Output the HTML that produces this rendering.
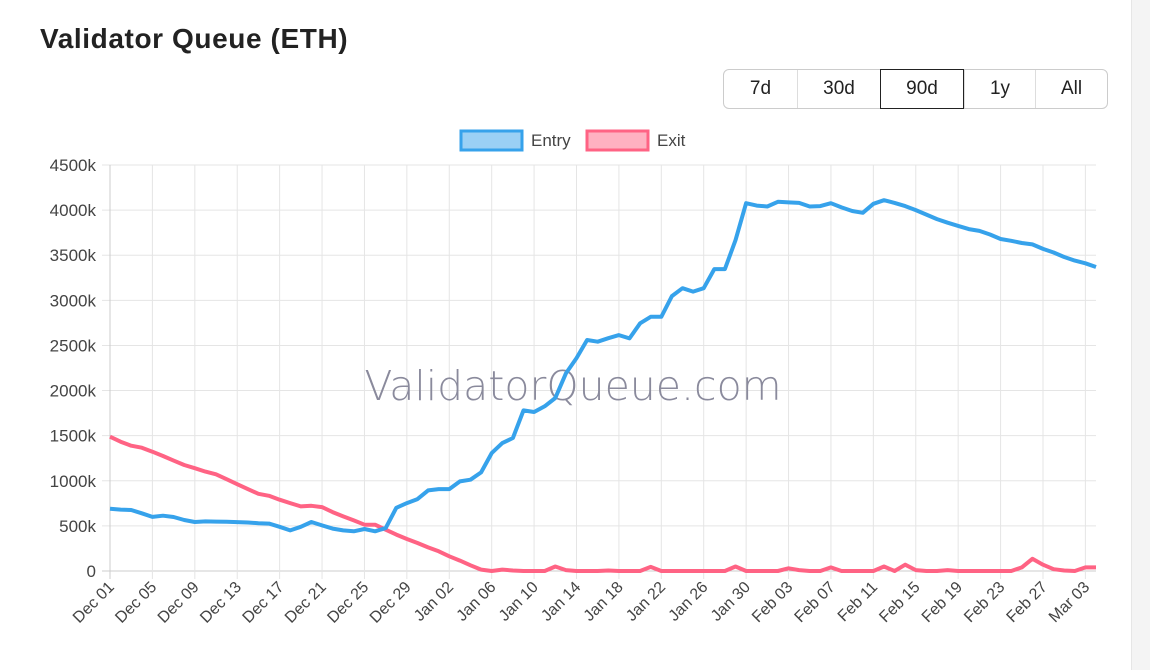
<!DOCTYPE html>
<html><head><meta charset="utf-8"><style>
body{margin:0;width:1150px;height:670px;background:#fff;font-family:"Liberation Sans",sans-serif;overflow:hidden;position:relative}
h1{position:absolute;left:40px;top:23px;margin:0;font-size:28px;font-weight:bold;color:#222;letter-spacing:0.6px}
.btns{position:absolute;left:723px;top:69px;display:flex;border:1px solid #ccc;border-radius:6px;height:40px;box-sizing:border-box}
.btns div{display:flex;align-items:center;justify-content:center;font-size:19px;color:#222;border-left:1px solid #ddd;box-sizing:border-box}
.btns div:first-child{border-left:none}
.btns .act{border:1px solid #222;margin:-1px 0}
.sb{position:absolute;left:1131px;top:0;width:19px;height:670px;background:#f4f4f4;border-left:1px solid #e6e6e6}
</style></head><body>
<h1>Validator Queue (ETH)</h1>
<div class="btns">
<div style="width:73px">7d</div>
<div style="width:83px">30d</div>
<div class="act" style="width:84px">90d</div>
<div style="width:71px">1y</div>
<div style="width:72px">All</div>
</div>
<div class="sb"></div>
<svg id="c" width="1130" height="670" style="position:absolute;left:0;top:0"></svg>
<script>
const entry=[690,680,676,640,600,613,598,565,543,550,548,545,542,538,530,525,490,450,490,543,505,470,450,440,465,440,475,700,753,797,893,908,908,993,1012,1093,1307,1418,1474,1780,1762,1825,1917,2190,2360,2560,2541,2580,2615,2578,2745,2818,2818,3047,3135,3097,3135,3346,3346,3667,4077,4050,4040,4092,4085,4080,4040,4045,4077,4030,3990,3970,4070,4110,4080,4045,4000,3950,3900,3860,3825,3790,3770,3730,3680,3660,3635,3620,3570,3530,3480,3440,3410,3370];
const exitQ=[1488,1433,1389,1367,1322,1275,1224,1175,1139,1102,1072,1017,962,908,856,834,790,753,716,723,708,653,605,561,513,513,458,403,355,310,262,218,163,115,63,15,0,15,5,0,0,0,50,10,0,0,0,5,0,0,0,45,0,0,0,0,0,0,0,50,0,0,0,0,30,10,0,0,40,0,0,0,0,50,0,70,10,0,0,10,0,0,0,0,0,0,40,135,70,20,5,0,40,40];
const yTicks=[0,500,1000,1500,2000,2500,3000,3500,4000,4500];
const yTickLabels=["0","500k","1000k","1500k","2000k","2500k","3000k","3500k","4000k","4500k"];
const monthNames=["Dec","Jan","Feb","Mar"];
const monthDays=[31,31,28,31];
const labelStep=4;
const X0=110,X1=1096,Y0=571,Y1=165,YMAX=4500;
const n=entry.length;
const xs=i=>X0+(X1-X0)*i/(n-1);
const ys=v=>Y0-(Y0-Y1)*v/YMAX;
function dateLabel(i){let m=0,d=i+1;while(d>monthDays[m]){d-=monthDays[m];m++;}return monthNames[m]+" "+String(d).padStart(2,"0");}
const svg=document.getElementById('c');const NS="http://www.w3.org/2000/svg";
function mk(t,a,p){const e=document.createElementNS(NS,t);for(const k in a)e.setAttribute(k,a[k]);(p||svg).appendChild(e);return e;}
yTicks.forEach((v,k)=>{
 const g=mk('line',{x1:X0-8,x2:X1,y1:ys(v),y2:ys(v),stroke:v===0?'#ccc':'#e5e5e5','stroke-width':1});
 
 
 const t=mk('text',{x:X0-14,y:ys(v)+6,'text-anchor':'end','font-size':17,fill:'#444'});t.textContent=yTickLabels[k];
 
 
});
for(let i=0;i<n;i+=labelStep){
 const x=xs(i);
 const g=mk('line',{x1:x,x2:x,y1:Y1,y2:Y0+8,stroke:i===0?'#ccc':'#e5e5e5','stroke-width':1});
 
 
 const t=mk('text',{x:x+5,y:Y0+17,'text-anchor':'end','font-size':16,fill:'#444',transform:`rotate(-45 ${x+5} ${Y0+17})`});t.textContent=dateLabel(i);
 
 
}
const wm=mk('text',{x:573,y:400,'text-anchor':'middle','font-size':41,fill:'#8a8a9c','font-family':'DejaVu Sans, sans-serif','font-weight':'200'});wm.textContent='ValidatorQueue.com';


function line(data,color,name){
 const p=mk('path',{d:data.map((v,i)=>(i?'L':'M')+xs(i).toFixed(1)+' '+ys(v).toFixed(1)).join(''),fill:'none',stroke:color,'stroke-width':4,'stroke-linejoin':'round'});
 
 
}
line(exitQ,'#ff6384','exit-line');
line(entry,'#36a2eb','entry-line');
function leg(x,fill,stroke,label,name){
 const r=mk('rect',{x:x,y:131,width:61,height:19,fill:fill,stroke:stroke,'stroke-width':3});
 
 
 const t=mk('text',{x:x+70,y:146,'font-size':17,fill:'#444'});t.textContent=label;
 
 
}
leg(461,'rgba(54,162,235,0.5)','#36a2eb','Entry','legend-entry');
leg(587,'rgba(255,99,132,0.5)','#ff6384','Exit','legend-exit');
</script>
</body></html>
